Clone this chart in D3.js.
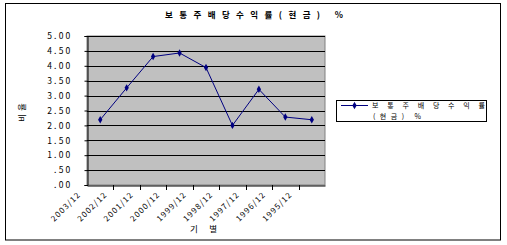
<!DOCTYPE html>
<html>
<head>
<meta charset="utf-8">
<script src="https://cdn.jsdelivr.net/npm/d3@7"></script>
<style>
  body { margin: 0; background: #fff; }
  text { font-family: "Noto Sans CJK KR", "DejaVu Sans", sans-serif; fill: #000; }
</style>
</head>
<body>
<svg id="chart" width="507" height="245"></svg>
<script>
// data
const periods = ["2003/12", "2002/12", "2001/12", "2000/12", "1999/12", "1998/12", "1997/12", "1996/12", "1995/12"];
const yieldValues = [2.19, 3.26, 4.31, 4.43, 3.94, 2.00, 3.21, 2.28, 2.19];
const yTicks = [0, 0.5, 1, 1.5, 2, 2.5, 3, 3.5, 4, 4.5, 5];
const seriesName = "보통주배당수익률(현금) %";

const svg = d3.select("#chart");
const plot = {left: 87, right: 325, top: 36, bottom: 185};
const navy = "#000080";

// outer frame
svg.append("rect")
  .attr("x", 5.5).attr("y", 3.5)
  .attr("width", 495).attr("height", 236.5)
  .attr("fill", "#fff").attr("stroke", "#000").attr("stroke-width", 1);

const x = d3.scaleBand()
  .domain(periods)
  .range([plot.left, plot.right]);

const y = d3.scaleLinear()
  .domain([0, 5])
  .range([plot.bottom, plot.top]);

// plot background
svg.append("rect")
  .attr("x", plot.left).attr("y", plot.top)
  .attr("width", plot.right - plot.left).attr("height", plot.bottom - plot.top)
  .attr("fill", "#c0c0c0").attr("stroke", "#808080");

// gridlines
svg.append("g")
  .selectAll("line")
  .data(yTicks.filter(d => d > 0))
  .enter()
  .append("line")
  .attr("x1", plot.left).attr("x2", plot.right)
  .attr("y1", d => Math.round(y(d)) + 0.5)
  .attr("y2", d => Math.round(y(d)) + 0.5)
  .attr("stroke", "#000");

// y axis
const yAxis = svg.append("g")
  .attr("transform", `translate(${plot.left + 0.5},0)`)
  .call(d3.axisLeft(y).tickValues(yTicks).tickSize(3)
    .tickFormat(d => d3.format(".2f")(d).replace(/^0/, "")));
yAxis.select(".domain").attr("stroke", "#000");
yAxis.selectAll("text")
  .attr("x", -15)
  .style("font-size", "8.5px")
  .style("letter-spacing", "2.2px")
  .style("fill", "#000");

// x axis
const xAxis = svg.append("g")
  .attr("transform", `translate(0,${plot.bottom + 0.5})`)
  .call(d3.axisBottom(x).tickSize(0).tickFormat(""));
xAxis.select(".domain").attr("stroke", "#000");

// category boundary ticks
svg.append("g")
  .selectAll("line")
  .data(periods.slice(1))
  .enter()
  .append("line")
  .attr("x1", d => Math.round(x(d)) + 0.5)
  .attr("x2", d => Math.round(x(d)) + 0.5)
  .attr("y1", plot.bottom).attr("y2", plot.bottom + 5)
  .attr("stroke", "#000");

// rotated category labels
svg.append("g")
  .selectAll("text")
  .data(periods)
  .enter()
  .append("text")
  .attr("transform", d => `translate(${x(d) + x.bandwidth() / 2 - 21},${plot.bottom + 8}) rotate(-45)`)
  .attr("text-anchor", "end")
  .attr("dy", "0.35em")
  .style("font-size", "8px")
  .style("letter-spacing", "1.2px")
  .text(d => d);

// series line
const line = d3.line()
  .x((d, i) => x(periods[i]) + x.bandwidth() / 2)
  .y(d => y(d));

svg.append("path")
  .datum(yieldValues)
  .attr("d", line)
  .attr("fill", "none")
  .attr("stroke", navy)
  .attr("stroke-width", 1);

svg.append("g")
  .selectAll("path")
  .data(yieldValues)
  .enter()
  .append("path")
  .attr("d", d3.symbol().type(d3.symbolDiamond).size(16))
  .attr("transform", (d, i) => `translate(${x(periods[i]) + x.bandwidth() / 2},${y(d)})`)
  .attr("fill", navy);

// titles
svg.append("text")
  .attr("x", 165).attr("y", 18)
  .attr("textLength", 178).attr("lengthAdjust", "spacing")
  .style("font-size", "8.5px")
  .style("font-weight", "bold")
  .text(seriesName);

svg.append("text")
  .attr("transform", "translate(25,111) rotate(-90)")
  .attr("text-anchor", "middle")
  .style("font-size", "8.5px")
  .style("letter-spacing", "3px")
  .text("비율");

svg.append("text")
  .attr("x", 190).attr("y", 232)
  .attr("textLength", 27).attr("lengthAdjust", "spacing")
  .style("font-size", "8.5px")
  .text("기별");

// legend
const legend = svg.append("g");
legend.append("rect")
  .attr("x", 336.5).attr("y", 100.5)
  .attr("width", 150).attr("height", 21)
  .attr("fill", "#fff").attr("stroke", "#000");
legend.append("line")
  .attr("x1", 341).attr("x2", 368)
  .attr("y1", 105.5).attr("y2", 105.5)
  .attr("stroke", navy);
legend.append("path")
  .attr("d", d3.symbol().type(d3.symbolDiamond).size(16))
  .attr("transform", "translate(354.5,105.5)")
  .attr("fill", navy);
legend.append("text")
  .attr("x", 372).attr("y", 108)
  .attr("textLength", 113).attr("lengthAdjust", "spacing")
  .style("font-size", "7px")
  .text("보통주배당수익률");
legend.append("text")
  .attr("x", 373).attr("y", 118.5)
  .attr("textLength", 48).attr("lengthAdjust", "spacing")
  .style("font-size", "7px")
  .text("(현금) %");
</script>
</body>
</html>
